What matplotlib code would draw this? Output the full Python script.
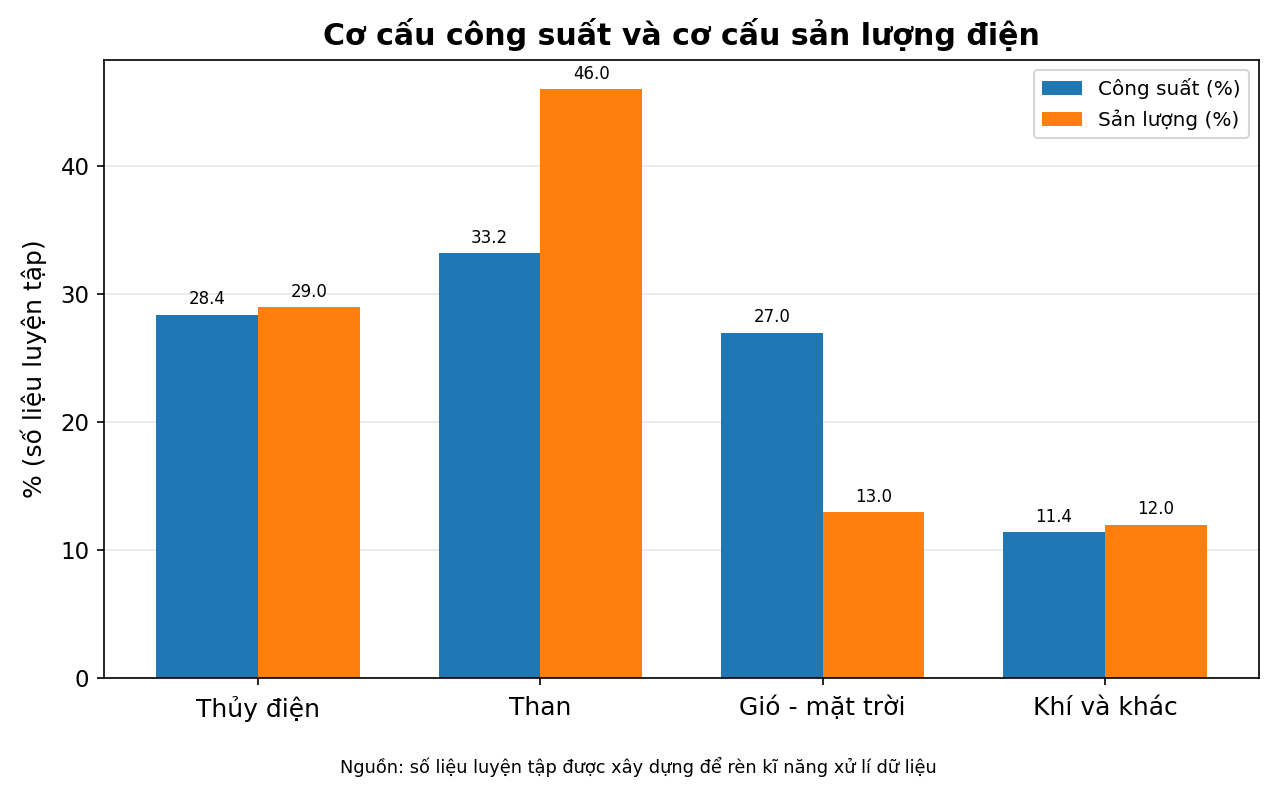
import numpy as np
import matplotlib.pyplot as plt

plt.switch_backend('Agg')

categories = ['Thủy điện', 'Than', 'Gió - mặt trời', 'Khí và khác']
cong_suat = [28.4, 33.2, 27.0, 11.4]
san_luong = [29.0, 46.0, 13.0, 12.0]

x = np.arange(len(categories))
width = 0.36

fig, ax = plt.subplots(figsize=(1276 / 150, 795 / 150), dpi=150)
fig.subplots_adjust(left=0.0815, right=0.9867, top=0.9245, bottom=0.147)

b1 = ax.bar(x - width / 2, cong_suat, width, label='Công suất (%)', color='#1f77b4')
b2 = ax.bar(x + width / 2, san_luong, width, label='Sản lượng (%)', color='#ff7f0e')

for bars in (b1, b2):
    for rect in bars:
        h = rect.get_height()
        ax.annotate(f'{h:.1f}',
                    xy=(rect.get_x() + rect.get_width() / 2, h),
                    xytext=(0, 3), textcoords='offset points',
                    ha='center', va='bottom', fontsize=8)

ax.set_xticks(x)
ax.set_xticklabels(categories, fontsize=12)
ax.tick_params(axis='x', pad=5)
ax.tick_params(axis='y', labelsize=11)
ax.set_ylabel('% (số liệu luyện tập)', fontsize=12, labelpad=6.5)
ax.set_title('Cơ cấu công suất và cơ cấu sản lượng điện',
             fontsize=14.4, fontweight='bold', pad=7)
ax.yaxis.grid(True, alpha=0.3)
ax.set_axisbelow(True)
ax.legend(loc='upper right', fontsize=9.6)

fig.text(0.5, 1 - 767 / 795, 'Nguồn: số liệu luyện tập được xây dựng để rèn kĩ năng xử lí dữ liệu',
         ha='center', va='center', fontsize=8.5)

plt.savefig('out.png', dpi=150)
plt.close('all')
